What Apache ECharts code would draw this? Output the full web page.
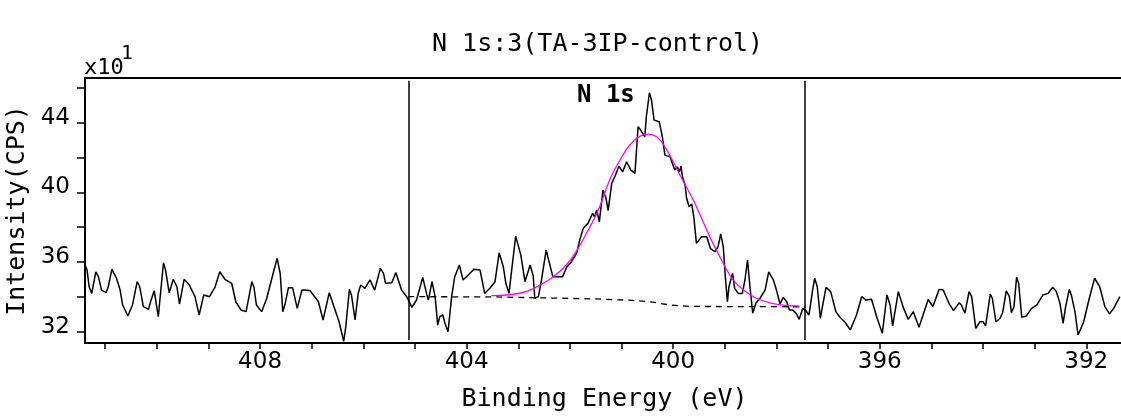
<!DOCTYPE html>
<html lang="en">

<head>
    <meta charset="UTF-8">
    <title>N 1s</title>
    <style>
        body { margin: 0; background: #fff; }
    </style>
</head>

<body>
    <div id="chart" style="width:1121px; height:416px;"></div>
    <script src="https://cdn.jsdelivr.net/npm/echarts@6/dist/echarts.min.js"></script>
    <script>
        // binding energy (eV) and intensity (x10 CPS)
        const spectrumBE = [
            411.39, 411.35, 411.31, 411.26, 411.18, 411.13, 411.07, 410.98, 410.94, 410.87,
            410.78, 410.71, 410.66, 410.56, 410.47, 410.38, 410.33, 410.26, 410.16, 410.12,
            410.05, 409.97, 409.94, 409.87, 409.83, 409.76, 409.68, 409.61, 409.56, 409.47,
            409.37, 409.26, 409.18, 409.09, 408.98, 408.87, 408.78, 408.68, 408.55, 408.47,
            408.37, 408.27, 408.16, 408.12, 408.07, 407.97, 407.87, 407.78, 407.67, 407.61,
            407.56, 407.52, 407.45, 407.37, 407.28, 407.19, 407.13, 407.03, 406.87, 406.78,
            406.66, 406.57, 406.47, 406.38, 406.34, 406.27, 406.23, 406.16, 406.10, 406.05,
            405.97, 405.87, 405.78, 405.67, 405.61, 405.57, 405.45, 405.37, 405.26, 405.16,
            405.06, 404.97, 404.85, 404.77, 404.74, 404.67, 404.61, 404.56, 404.52, 404.46,
            404.42, 404.36, 404.29, 404.23, 404.14, 404.07, 403.97, 403.86, 403.74, 403.65,
            403.55, 403.45, 403.37, 403.29, 403.24, 403.18, 403.05, 402.95, 402.87, 402.77,
            402.71, 402.68, 402.61, 402.55, 402.46, 402.42, 402.33, 402.14, 402.06, 401.97,
            401.87, 401.81, 401.74, 401.65, 401.56, 401.52, 401.48, 401.43, 401.36, 401.30,
            401.26, 401.19, 401.13, 401.05, 400.98, 400.90, 400.82, 400.74, 400.68, 400.63,
            400.55, 400.52, 400.46, 400.42, 400.37, 400.27, 400.21, 400.16, 400.06, 399.97,
            399.92, 399.88, 399.85, 399.82, 399.77, 399.74, 399.69, 399.64, 399.60, 399.55,
            399.45, 399.35, 399.28, 399.19, 399.13, 399.08, 399.03, 398.99, 398.95, 398.92,
            398.85, 398.81, 398.74, 398.66, 398.61, 398.56, 398.52, 398.46, 398.40, 398.32,
            398.22, 398.15, 398.06, 398.00, 397.93, 397.87, 397.80, 397.75, 397.69, 397.62,
            397.56, 397.49, 397.43, 397.37, 397.30, 397.26, 397.21, 397.15, 397.11, 397.04,
            396.95, 396.85, 396.77, 396.68, 396.57, 396.45, 396.35, 396.27, 396.16, 396.05,
            395.95, 395.86, 395.80, 395.75, 395.64, 395.55, 395.45, 395.35, 395.24, 395.15,
            395.06, 395.02, 394.97, 394.85, 394.77, 394.66, 394.57, 394.46, 394.42, 394.35,
            394.27, 394.22, 394.14, 394.06, 394.00, 393.95, 393.86, 393.82, 393.75, 393.67,
            393.62, 393.55, 393.49, 393.45, 393.40, 393.35, 393.31, 393.25, 393.16, 393.06,
            392.96, 392.84, 392.74, 392.65, 392.58, 392.51, 392.45, 392.40, 392.33, 392.29,
            392.22, 392.16, 392.05, 391.95, 391.84, 391.74, 391.64, 391.55, 391.47, 391.35
        ]
        const spectrumCPS = [
            35.83, 35.54, 34.58, 34.20, 35.44, 35.16, 34.39, 34.24, 34.58, 35.58,
            35.07, 34.39, 33.53, 32.90, 33.53, 34.87, 34.58, 33.44, 33.29, 33.72,
            34.35, 32.86, 33.82, 35.96, 35.54, 34.24, 35.01, 34.58, 33.59, 35.01,
            34.68, 34.01, 32.96, 34.11, 34.01, 34.58, 35.44, 35.01, 34.78, 33.72,
            33.25, 33.15, 34.87, 34.58, 33.53, 33.15, 33.92, 34.97, 36.21, 35.35,
            33.15, 33.53, 34.53, 34.53, 33.34, 34.39, 34.39, 34.35, 33.72, 32.67,
            34.24, 33.44, 32.57, 31.45, 32.29, 34.43, 34.11, 32.67, 34.20, 34.68,
            34.49, 34.97, 34.39, 35.64, 35.35, 34.78, 34.81, 35.39, 34.39, 34.01,
            33.40, 33.82, 35.12, 34.11, 33.82, 34.87, 34.01, 32.38, 32.86, 32.96,
            32.48, 32.00, 34.01, 35.16, 35.83, 34.97, 35.25, 35.58, 35.54, 34.20,
            34.49, 34.87, 36.53, 35.73, 34.78, 34.20, 37.49, 36.40, 34.87, 35.83,
            35.20, 33.92, 34.01, 34.97, 36.69, 36.21, 35.16, 35.16, 35.73, 36.02,
            36.50, 37.26, 37.94, 38.22, 38.80, 38.60, 38.99, 38.31, 40.13, 39.66,
            38.95, 40.52, 40.90, 41.51, 41.18, 41.76, 41.28, 41.09, 43.77, 43.58,
            43.19, 44.34, 45.72, 45.30, 44.15, 44.06, 43.19, 42.14, 42.05, 41.28,
            41.47, 41.18, 41.51, 40.90, 40.42, 39.66, 39.18, 39.33, 38.60, 37.07,
            37.45, 37.45, 36.79, 36.59, 36.88, 37.61, 36.88, 35.16, 33.72, 34.58,
            35.35, 34.49, 34.20, 34.20, 34.97, 36.12, 34.78, 33.06, 33.63, 33.92,
            34.39, 35.44, 34.97, 34.39, 33.59, 33.97, 33.72, 33.25, 33.25, 33.06,
            32.71, 33.34, 33.20, 32.96, 34.39, 35.07, 34.58, 32.77, 33.44, 34.55,
            34.30, 33.15, 32.83, 32.57, 32.10, 32.96, 34.01, 33.82, 33.86, 32.77,
            31.91, 34.11, 33.53, 32.33, 34.30, 33.44, 32.71, 33.15, 32.25, 33.06,
            33.86, 33.66, 33.44, 34.43, 34.39, 33.63, 33.21, 33.66, 33.53, 33.06,
            34.30, 34.01, 32.19, 32.57, 32.57, 32.33, 34.16, 33.92, 32.57, 32.77,
            33.09, 34.35, 34.01, 33.09, 33.44, 35.12, 34.78, 32.83, 32.90, 33.34,
            33.53, 34.11, 34.20, 34.55, 34.30, 33.63, 32.48, 33.44, 34.43, 34.11,
            33.15, 31.81, 32.57, 33.82, 35.07, 34.58, 33.44, 33.02, 33.34, 34.01
        ]

        // fitted N 1s component (magenta)
        const fitBE = [403.52, 403.10, 402.77, 402.39, 402.13, 401.90, 401.68, 401.45, 401.23, 401.03,
            400.84, 400.64, 400.48, 400.32, 400.16, 400.00, 399.87, 399.61, 399.42, 399.23,
            399.03, 398.84, 398.64, 398.39, 398.13, 397.87, 397.55]
        const fitCPS = [34.07, 34.15, 34.39, 35.01, 35.64, 36.50, 37.65, 38.99, 40.71, 41.86,
            42.72, 43.23, 43.35, 43.19, 42.62, 41.76, 41.00, 39.56, 38.31, 37.07,
            35.93, 34.97, 34.39, 33.92, 33.66, 33.53, 33.47]

        // background (dashed)
        const bgBE = [405.13, 403.50, 402.50, 401.50, 400.80, 400.40, 400.10, 399.70, 397.45]
        const bgCPS = [34.01, 34.00, 33.94, 33.88, 33.80, 33.70, 33.55, 33.45, 33.43]

        // region limits
        const regionBE = [405.13, 397.45]

        const yTicks = [32, 34, 36, 38, 40, 42, 44, 46]
        const yLabels = [32, 36, 40, 44]
        const xTicks = [392, 393, 394, 395, 396, 397, 398, 399, 400, 401, 402, 403, 404, 405, 406, 407, 408, 409, 410, 411]
        const xLabels = [392, 396, 400, 404, 408]

        const zip = (a, b) => a.map((v, i) => [v, b[i]])

        let myChart = echarts.init(document.getElementById('chart'))

        const option = {
            animation: false,
            grid: {
                left: 85,
                right: -3,
                top: 78,
                bottom: 73,
                outerBoundsMode: 'none',
                show: true,
                borderColor: '#000',
                borderWidth: 2
            },
            xAxis: {
                type: 'value',
                inverse: true,
                min: 391.27,
                max: 411.39,
                name: 'Binding Energy (eV)',
                nameLocation: 'middle',
                nameGap: 44,
                nameTextStyle: {
                    color: '#000',
                    fontFamily: 'DejaVu Sans Mono',
                    fontSize: 25
                },
                axisLine: { show: false },
                axisTick: {
                    customValues: xTicks,
                    length: 6,
                    lineStyle: { color: '#000', width: 1.5 }
                },
                axisLabel: {
                    customValues: xLabels,
                    color: '#000',
                    fontFamily: 'DejaVu Sans',
                    fontSize: 23,
                    margin: 8
                },
                splitLine: { show: false }
            },
            yAxis: {
                type: 'value',
                min: 31.35,
                max: 46.57,
                name: 'Intensity(CPS)',
                nameLocation: 'middle',
                nameRotate: 90,
                nameGap: 49,
                nameTextStyle: {
                    color: '#000',
                    fontFamily: 'DejaVu Sans Mono',
                    fontSize: 25
                },
                axisLine: { show: false },
                axisTick: {
                    customValues: yTicks,
                    length: 8,
                    lineStyle: { color: '#000', width: 1.5 }
                },
                axisLabel: {
                    customValues: yLabels,
                    color: '#000',
                    fontFamily: 'DejaVu Sans',
                    fontSize: 23,
                    margin: 15,
                    verticalAlign: 'bottom',
                    lineHeight: 10
                },
                splitLine: { show: false }
            },
            graphic: [{
                type: 'text',
                left: 432,
                top: 32,
                style: {
                    text: 'N 1s:3(TA-3IP-control)',
                    fill: '#000',
                    font: '25px "DejaVu Sans Mono"'
                }
            }, {
                type: 'text',
                left: 84,
                top: 57,
                style: {
                    text: 'x10',
                    fill: '#000',
                    font: '22px "DejaVu Sans Mono"'
                }
            }, {
                type: 'text',
                left: 121,
                top: 44,
                style: {
                    text: '1',
                    fill: '#000',
                    font: '20px "DejaVu Sans Mono"'
                }
            }, {
                type: 'text',
                left: 577,
                top: 84,
                style: {
                    text: 'N 1s',
                    fill: '#000',
                    font: 'bold 24px "DejaVu Sans Mono"'
                }
            }],
            series: [{
                name: 'spectrum',
                type: 'line',
                data: zip(spectrumBE, spectrumCPS),
                showSymbol: false,
                lineStyle: { color: '#000', width: 1.5 },
                z: 3,
                markLine: {
                    silent: true,
                    symbol: 'none',
                    label: { show: false },
                    lineStyle: { color: '#000', type: 'solid', width: 1.5 },
                    data: regionBE.map(v => [{ coord: [v, 31.52] }, { coord: [v, 46.41] }])
                }
            }, {
                name: 'background',
                type: 'line',
                data: zip(bgBE, bgCPS),
                showSymbol: false,
                lineStyle: { color: '#000', width: 1.3, type: [6, 5] },
                z: 2
            }, {
                name: 'fit',
                type: 'line',
                data: zip(fitBE, fitCPS),
                showSymbol: false,
                smooth: 0.4,
                lineStyle: { color: '#ff00ff', width: 1.3 },
                z: 4
            }]
        }

        myChart.setOption(option)
    </script>
</body>

</html>
